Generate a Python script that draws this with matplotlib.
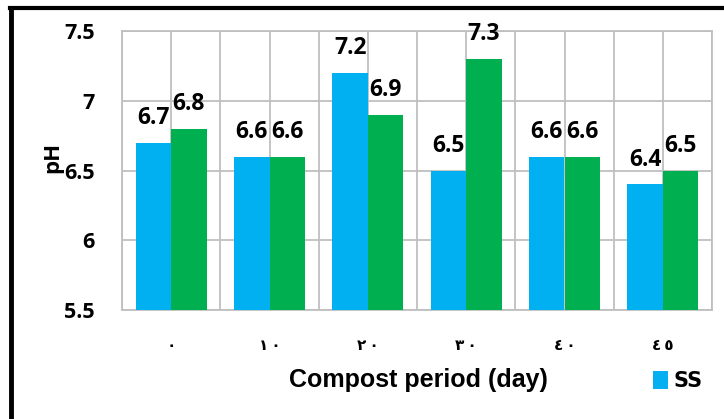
import matplotlib
matplotlib.use("Agg")
import matplotlib.pyplot as plt
import numpy as np
from matplotlib.lines import Line2D

categories = ["٠", "١٠", "٢٠", "٣٠", "٤٠", "٤٥"]
ss_values = [6.7, 6.6, 7.2, 6.5, 6.6, 6.4]
series2_values = [6.8, 6.6, 6.9, 7.3, 6.6, 6.5]
yticks = [5.5, 6, 6.5, 7, 7.5]

blue = "#00B0F0"
green = "#00B050"
gridc = "#BFBFBF"

fig = plt.figure(figsize=(7.24, 4.19), dpi=100)
ax = fig.add_axes([122/724, 1-310/419, (712-122)/724, (310-31)/419])

x = np.arange(len(categories))
w = 0.36
b1 = ax.bar(x - w/2, ss_values, w, color=blue, label="SS", zorder=3)
b2 = ax.bar(x + w/2, series2_values, w, color=green, zorder=3)
ax.set_ylim(5.5, 7.5)
ax.set_xlim(-0.5, len(categories) - 0.5)

lblfont = dict(family="Open Sans", weight="bold", size=16.5)
for bars, vals in ((b1, ss_values), (b2, series2_values)):
    for rect, v in zip(bars, vals):
        ax.annotate(f"{v:g}", (rect.get_x() + rect.get_width()/2, v), xytext=(0, 13.5),
                    textcoords="offset points", ha="center", va="baseline", zorder=4, **lblfont)

ax.set_yticks(yticks)
ax.set_yticklabels([f"{t:g}" for t in yticks], family="Open Sans", weight="bold", size=15.5)
ax.set_xticks(x)
ax.set_xticklabels(["\u2009".join(c) for c in categories], family="DejaVu Sans", weight="bold", size=11)
ax.set_xticks(np.arange(len(categories) + 1) - 0.5, minor=True)
ax.tick_params(axis="both", which="both", length=0)
ax.tick_params(axis="y", pad=19.5)
ax.tick_params(axis="x", pad=20)
ax.grid(True, which="major", color=gridc, lw=1.3, zorder=0)
ax.grid(True, which="minor", axis="x", color=gridc, lw=1.3, zorder=0)
for s in ax.spines.values():
    s.set_color(gridc)
    s.set_linewidth(1.3)

ax.set_xlabel("Compost period (day)", family="Liberation Sans", weight="bold", size=18)
ax.xaxis.set_label_coords((418.5-122)/(712-122), -(380-310)/(310-31))
ax.xaxis.label.set_va("center")
ax.set_ylabel("pH", family="Open Sans", weight="bold", size=16)
ax.yaxis.set_label_coords(-(122-53)/(712-122), (310-157)/(310-31))
ax.yaxis.label.set_va("center")

leg = fig.legend(handles=[b1], labels=["SS"], loc="center left", bbox_to_anchor=(653/724, 1-381/419),
                 frameon=False, prop=dict(family="Liberation Sans Narrow", weight="bold", size=15),
                 handlelength=0.7, handleheight=1.0, handletextpad=0.3, borderpad=0, borderaxespad=0)

fig.add_artist(Line2D([10/724, 1], [1-8/419, 1-8/419], color="black", lw=3, transform=fig.transFigure))
fig.add_artist(Line2D([11/724, 11/724], [0, 1-8/419], color="black", lw=3.5, transform=fig.transFigure))

fig.savefig("out.png", dpi=100)
